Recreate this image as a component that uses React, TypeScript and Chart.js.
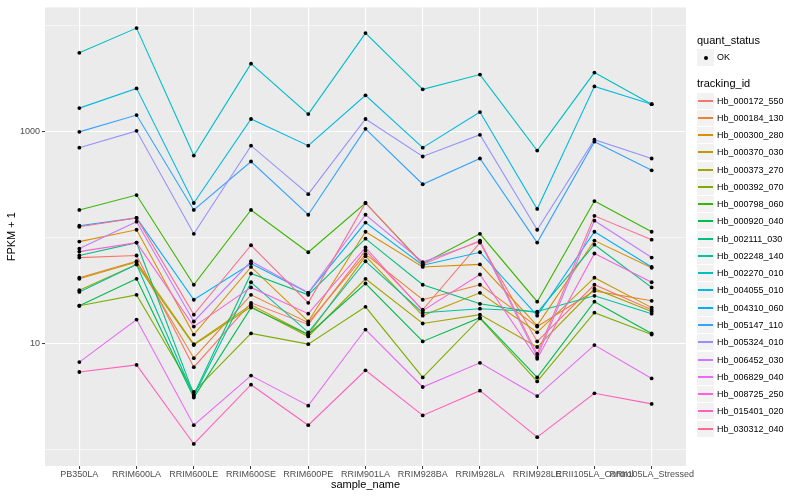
import { useEffect, useRef } from "react";
import { Chart, registerables } from "chart.js";

Chart.register(...registerables);

const FONT = "'Liberation Sans', Arial, Helvetica, sans-serif";

const sampleNames = [
  "PB350LA",
  "RRIM600LA",
  "RRIM600LE",
  "RRIM600SE",
  "RRIM600PE",
  "RRIM901LA",
  "RRIM928BA",
  "RRIM928LA",
  "RRIM928LE",
  "RRII105LA_Control",
  "RRII105LA_Stressed",
];

const trackingIds = [
  "Hb_000172_550",
  "Hb_000184_130",
  "Hb_000300_280",
  "Hb_000370_030",
  "Hb_000373_270",
  "Hb_000392_070",
  "Hb_000798_060",
  "Hb_000920_040",
  "Hb_002111_030",
  "Hb_002248_140",
  "Hb_002270_010",
  "Hb_004055_010",
  "Hb_004310_060",
  "Hb_005147_110",
  "Hb_005324_010",
  "Hb_006452_030",
  "Hb_006829_040",
  "Hb_008725_250",
  "Hb_015401_020",
  "Hb_030312_040",
];

const seriesColors = [
  "#F8766D", "#EA8331", "#D89000", "#C09B00", "#A3A500",
  "#7CAE00", "#39B600", "#00BB4E", "#00BF7D", "#00C1A3",
  "#00BFC4", "#00BAE0", "#00B0F6", "#35A2FF", "#9590FF",
  "#C77CFF", "#E76BF3", "#FA62DB", "#FF62BC", "#FF6C91",
];

const quantStatus = ["OK"];

const yTickValues = [1, 10, 100, 1000, 10000];
const yTickLabels = ["", "10", "", "1000", ""];

// FPKM + 1 per sample
const hb000172_550 = [65, 68, 6.0, 24.3, 15.2, 76, 20.9, 90, 10.5, 36, 20.9];
const hb000184_130 = [42, 60, 7.3, 28.9, 15.8, 70, 26.0, 36, 14.5, 31.5, 25.4];
const hb000300_280 = [92, 119, 12.2, 53, 16.2, 114, 53, 56, 14.8, 94, 52];
const hb000370_030 = [41, 59, 9.9, 23.3, 12.2, 67, 18.4, 30.2, 12.8, 42, 21.9];
const hb000373_270 = [32, 56, 9.7, 22.3, 11.7, 41, 15.5, 18.8, 9.3, 33, 20.1];
const hb000392_070 = [22.8, 28.9, 3.5, 12.5, 9.9, 22.3, 4.8, 17.3, 4.4, 19.6, 12.2];
const hb000798_060 = [183, 253, 36, 183, 73, 213, 57, 109, 24.9, 222, 114];
const hb000920_040 = [22.8, 41, 3.1, 21.9, 12.2, 37, 10.5, 17.6, 4.8, 24.9, 12.5];
const hb002111_030 = [68, 90, 3.3, 46, 28.9, 98, 36, 23.8, 19.6, 86, 34];
const hb002248_140 = [30.8, 56, 3.2, 38, 12.8, 60, 19.6, 21.4, 20.1, 28.3, 19.2];
const hb002270_010 = [5575, 9540, 597, 4402, 1472, 8565, 2519, 3475, 665, 3628, 1825];
const hb004055_010 = [1675, 2573, 213, 1322, 740, 2214, 709, 1537, 187, 2687, 1825];
const hb004310_060 = [130, 154, 26.0, 57, 30.2, 139, 55, 73, 18.4, 114, 53];
const hb005147_110 = [1000, 1441, 183, 525, 165, 1067, 320, 560, 90, 807, 433];
const hb005324_010 = [709, 1022, 109, 740, 258, 1322, 585, 938, 119, 842, 560];
const hb006452_030 = [79, 142, 16.2, 60, 30.2, 165, 59, 92, 7.5, 145, 65];
const hb006829_040 = [6.7, 16.9, 1.7, 5.0, 2.6, 13.6, 3.9, 6.6, 3.2, 9.7, 4.7];
const hb008725_250 = [74, 90, 14.5, 34, 19.2, 81, 20.5, 45, 7.2, 71, 38];
const hb015401_020 = [5.4, 6.3, 1.13, 4.1, 1.7, 5.6, 2.1, 3.6, 1.31, 3.4, 2.7];
const hb030312_040 = [127, 154, 18.8, 85, 24.3, 213, 56, 94, 8.0, 161, 96];

const seriesValues = [
  hb000172_550, hb000184_130, hb000300_280, hb000370_030, hb000373_270,
  hb000392_070, hb000798_060, hb000920_040, hb002111_030, hb002248_140,
  hb002270_010, hb004055_010, hb004310_060, hb005147_110, hb005324_010,
  hb006452_030, hb006829_040, hb008725_250, hb015401_020, hb030312_040,
];

const panelBackground = {
  id: "panelBackground",
  beforeDraw(chart: any) {
    const { ctx, chartArea: a } = chart;
    ctx.save();
    ctx.fillStyle = "#EBEBEB";
    ctx.fillRect(a.left, a.top, a.right - a.left, a.bottom - a.top);
    ctx.restore();
  },
};

export default function App() {
  const ref = useRef<HTMLCanvasElement>(null);

  useEffect(() => {
    const canvas = ref.current;
    if (!canvas) return;

    const lineSets = seriesValues.map((vals, i) => ({
      label: trackingIds[i],
      data: vals.map((y, x) => ({ x, y })),
      borderColor: seriesColors[i],
      backgroundColor: seriesColors[i],
      borderWidth: 1.1,
      pointRadius: 0,
      fill: false,
      tension: 0,
      order: 100 - i,
    }));
    const pointSets = seriesValues.map((vals, i) => ({
      label: trackingIds[i] + " " + quantStatus[0],
      data: vals.map((y, x) => ({ x, y })),
      showLine: false,
      borderColor: "#000000",
      backgroundColor: "#000000",
      pointBackgroundColor: "#000000",
      pointBorderWidth: 0,
      pointRadius: 1.9,
      order: 0,
    }));

    const chart = new Chart(canvas, {
      type: "line",
      data: { datasets: [...lineSets, ...pointSets] as any },
      options: {
        animation: false,
        responsive: false,
        events: [],
        layout: { padding: { left: 0, top: 5, right: 114, bottom: 0 } },
        plugins: {
          legend: { display: false },
          tooltip: { enabled: false },
        },
        scales: {
          x: {
            type: "linear",
            min: -0.6,
            max: sampleNames.length - 1 + 0.6,
            afterBuildTicks: (s: any) => {
              s.ticks = sampleNames.map((_, i) => ({ value: i }));
            },
            afterFit: (s: any) => {
              s.height = 34;
            },
            ticks: {
              callback: (v: any) => sampleNames[v] ?? "",
              autoSkip: false,
              maxRotation: 0,
              minRotation: 0,
              padding: 0,
              color: "#4D4D4D",
              font: { family: FONT, size: 9 },
            },
            grid: {
              color: "#FFFFFF",
              lineWidth: 1.1,
              tickColor: "#333333",
              tickLength: 3,
              tickWidth: 1,
            },
            border: { display: false },
            title: {
              display: true,
              text: "sample_name",
              color: "#000000",
              font: { family: FONT, size: 11 },
              padding: { top: 0, bottom: 8 },
            },
          },
          y: {
            type: "logarithmic",
            min: 0.733,
            max: 14962,
            afterBuildTicks: (s: any) => {
              s.ticks = yTickValues.map((value) => ({ value }));
            },
            afterFit: (s: any) => {
              s.width = 45;
            },
            ticks: {
              callback: (v: any) => {
                const idx = yTickValues.indexOf(Number(v));
                return idx >= 0 ? yTickLabels[idx] : "";
              },
              autoSkip: false,
              padding: 2,
              color: "#4D4D4D",
              font: { family: FONT, size: 9 },
            },
            grid: {
              color: "#FFFFFF",
              lineWidth: (c: any) => {
                const idx = yTickValues.indexOf(c.tick?.value);
                return idx >= 0 && yTickLabels[idx] ? 1.1 : 0.55;
              },
              tickColor: (c: any) => {
                const idx = yTickValues.indexOf(c.tick?.value);
                return idx >= 0 && yTickLabels[idx] ? "#333333" : "rgba(0,0,0,0)";
              },
              tickLength: 3,
              tickWidth: 1,
            },
            border: { display: false },
            title: {
              display: true,
              text: "FPKM + 1",
              color: "#000000",
              font: { family: FONT, size: 11 },
              padding: { top: 5, bottom: 0 },
            },
          },
        },
      } as any,
      plugins: [panelBackground],
    });

    return () => chart.destroy();
  }, []);

  const keyTop0 = 92.5;
  const keyStep = 17.27;

  return (
    <div
      style={{
        position: "absolute",
        left: 0,
        top: 0,
        width: 800,
        height: 500,
        background: "#FFFFFF",
        fontFamily: FONT,
        color: "#000000",
      }}
    >
      <canvas ref={ref} width={800} height={500} style={{ display: "block" }} />
      <div style={{ position: "absolute", left: 697, top: 34, fontSize: 11, lineHeight: "13px", whiteSpace: "nowrap" }}>
        quant_status
      </div>
      <div style={{ position: "absolute", left: 697, top: 49, width: 17, height: 17, background: "#F2F2F2" }}>
        <div style={{ position: "absolute", left: 6.5, top: 6.5, width: 4, height: 4, borderRadius: 2, background: "#000000" }} />
      </div>
      <div style={{ position: "absolute", left: 717, top: 52, fontSize: 9, lineHeight: "11px", whiteSpace: "nowrap" }}>
        {quantStatus[0]}
      </div>
      <div style={{ position: "absolute", left: 697, top: 77, fontSize: 11, lineHeight: "13px", whiteSpace: "nowrap" }}>
        tracking_id
      </div>
      {trackingIds.map((id, i) => {
        const top = Math.round(keyTop0 + i * keyStep);
        return (
          <div key={id}>
            <div
              style={{
                position: "absolute",
                left: 697,
                top,
                width: 17,
                height: 16,
                background: "#F2F2F2",
              }}
            >
              <div
                style={{
                  position: "absolute",
                  left: 1,
                  right: 1,
                  top: 7,
                  height: 2,
                  background: seriesColors[i],
                }}
              />
            </div>
            <div
              style={{
                position: "absolute",
                left: 717,
                top: top + 3,
                fontSize: 9,
                lineHeight: "11px",
                whiteSpace: "nowrap",
              }}
            >
              {id}
            </div>
          </div>
        );
      })}
    </div>
  );
}
